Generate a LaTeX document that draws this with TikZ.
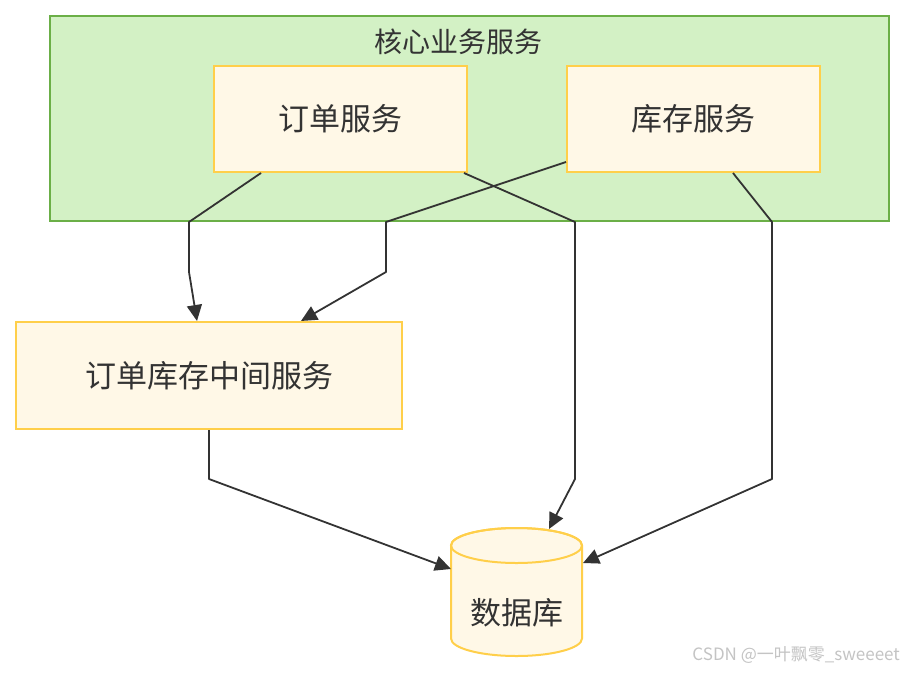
\documentclass[tikz,border=0pt]{standalone}
\usepackage{fontspec}
\newfontfamily\cjk{Noto Sans CJK SC}
\usetikzlibrary{arrows.meta}
\definecolor{grnfill}{HTML}{D3F1C5}
\definecolor{grnline}{HTML}{6BAF47}
\definecolor{ylfill}{HTML}{FFF8E7}
\definecolor{ylline}{HTML}{FFCF4A}
\definecolor{ink}{HTML}{333333}
\definecolor{wmgray}{HTML}{C4C4C4}
\begin{document}
\begin{tikzpicture}[x=1pt,y=-1pt,
  svc/.style={draw=ylline, fill=ylfill, line width=2pt, text=ink, inner sep=0pt,
    font=\cjk\fontsize{31}{31}\selectfont},
  flow/.style={draw=ink, line width=1.8pt, line join=round, -{Triangle[length=16pt,width=15pt]}},
  cluster/.style={draw=grnline, fill=grnfill, line width=2pt, inner sep=0pt}]
\useasboundingbox[fill=white] (0,0) rectangle (904,672);
% cluster
\node[cluster, minimum width=839pt, minimum height=205pt] (core) at (469.5,118.5) {};
\node[text=ink, font=\cjk\fontsize{28}{28}\selectfont] (title) at (458,42) {核心业务服务};
% service boxes
\node[svc, minimum width=253pt, minimum height=106pt] (order) at (340.5,119) {订单服务};
\node[svc, minimum width=253pt, minimum height=106pt] (inv) at (693.5,119) {库存服务};
\node[svc, minimum width=386pt, minimum height=107pt] (mid) at (209,375.5) {订单库存中间服务};
% database cylinder
\node[minimum width=131pt, minimum height=128pt, inner sep=0pt] (db) at (516.5,592) {};
\draw[draw=ylline, fill=ylfill, line width=2pt]
  (451,545.5) -- (451,638.5) arc[start angle=180, end angle=360, x radius=65.5pt, y radius=17.5pt]
  -- (582,545.5) arc[start angle=0, end angle=180, x radius=65.5pt, y radius=17.5pt] -- cycle;
\draw[draw=ylline, line width=2pt] (516.5,545.5) ellipse[x radius=65.5pt, y radius=17.5pt];
\node[text=ink, font=\cjk\fontsize{31}{31}\selectfont] (dblabel) at (516.5,613) {数据库};
\coordinate (dbtop) at (549,529);
\coordinate (dbleft) at (451,569);
\coordinate (dbright) at (583,563);
% connectors
\draw[flow] ([xshift=48pt]order.south west) -- (189,222) -- (189,272) -- ([xshift=182pt]mid.north west);
\draw[flow] ([yshift=11pt]inv.south west) -- (386,222) -- (386,272) -- ([xshift=286pt]mid.north west);
\draw[flow] ([xshift=-4pt]order.south east) -- (575,222) -- (575,479) -- (dbtop);
\draw[flow] ([xshift=167pt]inv.south west) -- (772,222) -- (772,479) -- (dbright);
\draw[flow] (mid.south) -- (209,479) -- (dbleft);
% watermark
\node[anchor=east, text=wmgray, font=\cjk\fontsize{17}{17}\selectfont, inner sep=0pt] (wm) at (900,655) {CSDN @一叶飘零\_sweeeet};
\end{tikzpicture}
\end{document}
